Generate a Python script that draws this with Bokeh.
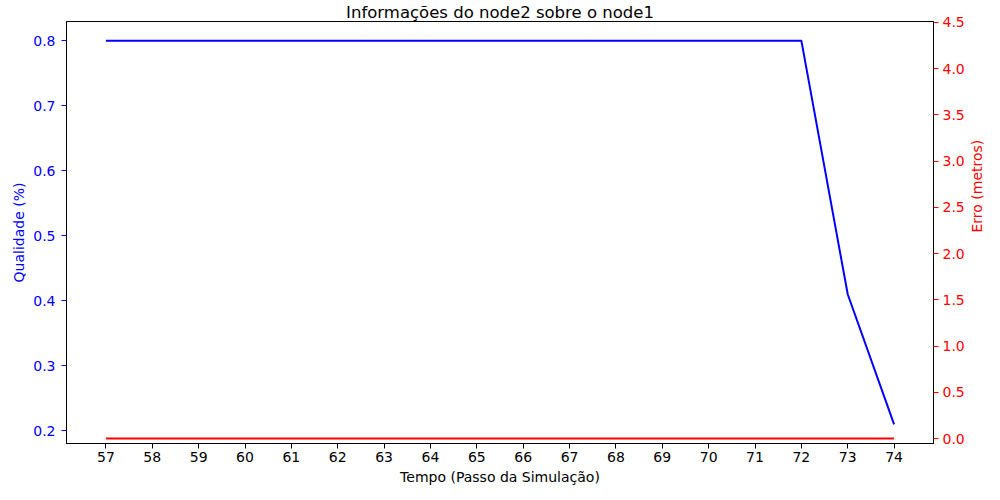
import math
from bokeh.plotting import figure
from bokeh.models import LinearAxis, Range1d, FixedTicker, NumeralTickFormatter
from bokeh.embed import file_html
from bokeh.resources import INLINE

passos = [57, 58, 59, 60, 61, 62, 63, 64, 65, 66, 67, 68, 69, 70, 71, 72, 73, 74]
qualidade = [0.8, 0.8, 0.8, 0.8, 0.8, 0.8, 0.8, 0.8, 0.8, 0.8, 0.8, 0.8, 0.8, 0.8, 0.8, 0.8, 0.41, 0.21]
erro = [0, 0, 0, 0, 0, 0, 0, 0, 0, 0, 0, 0, 0, 0, 0, 0, 0, 0]
qual_ticks = [0.2, 0.3, 0.4, 0.5, 0.6, 0.7, 0.8]
erro_ticks = [0.0, 0.5, 1.0, 1.5, 2.0, 2.5, 3.0, 3.5, 4.0, 4.5]
titulo = "Informações do node2 sobre o node1"

FONT = "DejaVu Sans"

p = figure(frame_width=867, frame_height=422, output_backend="svg", toolbar_location=None,
           x_range=Range1d(56.15, 74.85), y_range=Range1d(0.1805, 0.8295),
           min_border_left=66, min_border_right=52, min_border_bottom=46, min_border_top=20)
p.title.text = titulo
p.title.align = "center"
p.title.text_font = FONT
p.title.text_font_size = "16.5px"
p.title.text_font_style = "normal"
p.title.text_color = "black"
p.title.text_line_height = 0.8
p.title.offset = 0
p.title.standoff = 0

p.extra_y_ranges = {"err": Range1d(-0.054, 4.51)}

p.grid.visible = False
p.outline_line_color = "black"
p.outline_line_width = 1
p.background_fill_color = "white"
p.border_fill_color = "white"

p.line(passos, qualidade, line_color="blue", line_width=2)
p.line(passos, erro, line_color="red", line_width=2, y_range_name="err")

xa = p.xaxis[0]
xa.ticker = FixedTicker(ticks=passos)
xa.axis_label = "Tempo (Passo da Simulação)"
xa.major_label_text_color = "black"
xa.axis_label_text_color = "black"
xa.major_tick_line_color = "black"

ya = p.yaxis[0]
ya.ticker = FixedTicker(ticks=qual_ticks)
ya.formatter = NumeralTickFormatter(format="0.0")
ya.axis_label = "Qualidade (%)"
ya.major_label_text_color = "blue"
ya.axis_label_text_color = "blue"
ya.major_tick_line_color = "blue"

ra = LinearAxis(y_range_name="err", ticker=FixedTicker(ticks=erro_ticks),
                formatter=NumeralTickFormatter(format="0.0"), axis_label="Erro (metros)")
ra.major_label_text_color = "red"
ra.axis_label_text_color = "red"
ra.major_tick_line_color = "red"
if "axis_label_orientation" in ra.properties():
    ra.axis_label_orientation = math.pi / 2
p.add_layout(ra, "right")

for ax in [xa, ya, ra]:
    ax.minor_tick_line_color = None
    ax.major_tick_in = 0
    ax.major_tick_out = 5
    ax.axis_line_color = "black"
    ax.major_label_text_font = FONT
    ax.major_label_text_font_size = "14px"
    ax.axis_label_text_font = FONT
    ax.axis_label_text_font_size = "14px"
    ax.axis_label_text_font_style = "normal"
xa.major_label_standoff = 3
xa.axis_label_standoff = 4
ya.major_label_standoff = 6
ya.axis_label_standoff = 3
ra.major_label_standoff = 4
ra.axis_label_standoff = 9

open("out.html", "w").write(file_html(p, INLINE))
